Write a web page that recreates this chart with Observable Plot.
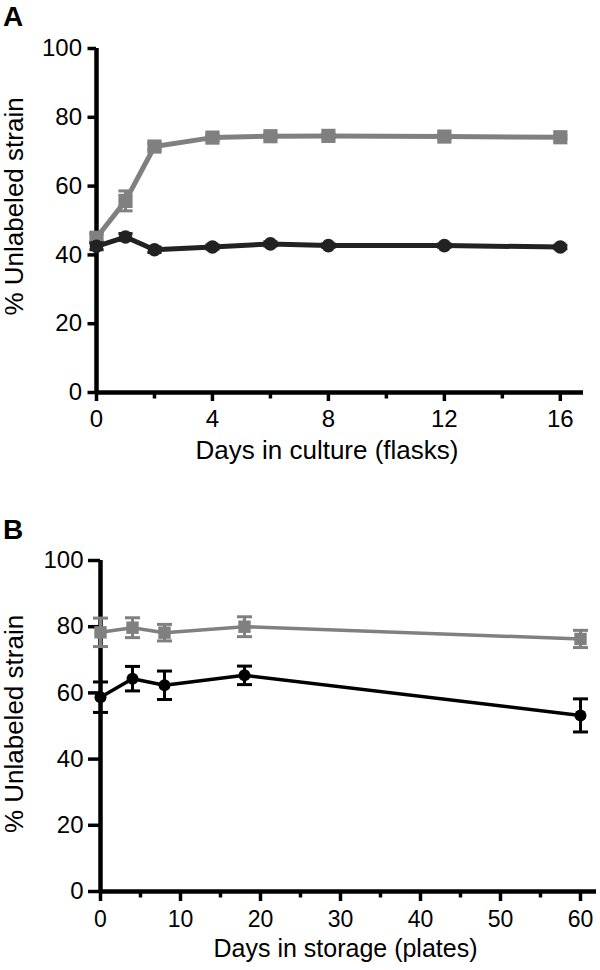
<!DOCTYPE html>
<html><head><meta charset="utf-8">
<script src="https://cdn.jsdelivr.net/npm/d3@7"></script>
<script src="https://cdn.jsdelivr.net/npm/@observablehq/plot@0.6"></script>
<style>
body{margin:0;background:#fff;font-family:"Liberation Sans",Arial,sans-serif;color:#000;}
#wrap{position:relative;width:600px;height:970px;overflow:hidden;}
.panel{position:absolute;left:0;}
.letter{position:absolute;left:3px;font-weight:bold;font-size:28px;line-height:1;}
</style></head><body>
<div id="wrap">
  <div class="panel" id="pa" style="top:0px"></div>
  <div class="panel" id="pb" style="top:465px"></div>
  <div class="letter" style="top:3px">A</div>
  <div class="letter" style="top:516px">B</div>
</div>
<script>
// ---------- data ----------
const yTicks = [0, 20, 40, 60, 80, 100];
const yDomain = [0, 100];
const yTitle = "% Unlabeled strain";

// Panel A: days in culture (flasks)
const daysA = [0, 1, 2, 4, 6, 8, 12, 16];
const grayA = [45, 55.7, 71.5, 74.1, 74.5, 74.6, 74.4, 74.2];
const grayAerr = [1.2, 2.9, 1.0, 0.8, 0.5, 0.5, 0.5, 0.5];
const blackA = [42.5, 45.2, 41.5, 42.3, 43.2, 42.7, 42.7, 42.3];
const blackAerr = [1.0, 1.0, 0.8, 0.6, 0.6, 0.5, 0.5, 0.5];
const xDomainA = [0, 16.8];
const xTicksA = [0, 4, 8, 12, 16];
const xMinorA = [2, 6, 10, 14];
const xTitleA = "Days in culture (flasks)";

// Panel B: days in storage (plates)
const daysB = [0, 4, 8, 18, 60];
const grayB = [78.3, 79.7, 78.2, 80.0, 76.3];
const grayBerr = [4.3, 3.0, 2.5, 3.0, 2.6];
const blackB = [58.7, 64.3, 62.3, 65.3, 53.2];
const blackBerr = [4.6, 3.7, 4.3, 2.8, 5.0];
const xDomainB = [0, 62];
const xTicksB = [0, 10, 20, 30, 40, 50, 60];
const xMinorB = [5, 15, 25, 35, 45, 55];
const xTitleB = "Days in storage (plates)";

const GRAY = "#808080";

// ---------- helpers ----------
const capSymbol = {
  draw(ctx, size) {
    const w = Math.sqrt(size) / 2;
    ctx.moveTo(-w, 0);
    ctx.lineTo(w, 0);
  }
};
function rows(days, vals, errs) {
  return days.map((d, i) => ({x: d, y: vals[i], lo: vals[i] - errs[i], hi: vals[i] + errs[i]}));
}
function seriesMarks(data, color, symbol, r, lineW, errW, capR) {
  return [
    Plot.line(data, {x: "x", y: "y", stroke: color, strokeWidth: lineW}),
    Plot.ruleX(data, {x: "x", y1: "lo", y2: "hi", stroke: color, strokeWidth: errW}),
    Plot.dot(data, {x: "x", y: "lo", symbol: capSymbol, r: capR, stroke: color, strokeWidth: errW}),
    Plot.dot(data, {x: "x", y: "hi", symbol: capSymbol, r: capR, stroke: color, strokeWidth: errW}),
    Plot.dot(data, {x: "x", y: "y", symbol, r, fill: color, stroke: "none"})
  ];
}

function panel(o) {
  return Plot.plot({
    width: 600,
    height: o.height,
    marginTop: o.marginTop,
    marginBottom: o.marginBottom,
    marginLeft: o.marginLeft,
    marginRight: o.marginRight,
    style: {fontFamily: '"Liberation Sans", Arial, sans-serif', color: "#000", background: "transparent", overflow: "visible"},
    x: {domain: o.xDomain},
    y: {domain: yDomain},
    marks: [
      Plot.axisY({ticks: yTicks, tickSize: o.yTickSize, tickPadding: o.yTickPad, strokeWidth: 3.5, fontSize: 24, label: null}),
      Plot.axisX({ticks: o.xTicks, tickSize: o.xTickSize, tickPadding: o.xTickPad, strokeWidth: 3.5, fontSize: o.xTickFont, label: null}),
      Plot.axisX({ticks: o.xMinor, tickSize: 6.5, strokeWidth: 3.5, text: null, label: null}),
      Plot.ruleX([o.xDomain[0]], {y1: yDomain[0], y2: yDomain[1], stroke: "#000", strokeWidth: 4.5}),
      Plot.ruleY([yDomain[0]], {x1: o.xDomain[0], x2: o.xDomain[1], stroke: "#000", strokeWidth: 4.5}),
      ...seriesMarks(o.gray, GRAY, "square", o.sqR, o.lineW, o.errW, o.capR),
      ...seriesMarks(o.black, o.blackColor, "circle", o.circR, o.lineW, o.errW, o.capR),
      Plot.text([o.xTitle], {frameAnchor: "bottom", dy: o.titleDy, dx: o.titleDx, fontSize: o.titleFont, fill: "#000"}),
      Plot.text([yTitle], {frameAnchor: "left", textAnchor: "middle", rotate: -90, dx: o.yTitleDx, dy: o.yTitleDy, fontSize: 26, fill: "#000"})
    ]
  });
}

document.getElementById("pa").append(panel({
  height: 465, marginTop: 48, marginBottom: 73, marginLeft: 96, marginRight: 17,
  xDomain: xDomainA, xTicks: xTicksA, xMinor: xMinorA,
  yTickSize: 8.5, yTickPad: 6, xTickSize: 9, xTickPad: 8, xTickFont: 24,
  gray: rows(daysA, grayA, grayAerr), black: rows(daysA, blackA, blackAerr),
  blackColor: "#222", sqR: 8, circR: 6.8, lineW: 5, errW: 3, capR: 8,
  xTitle: xTitleA, titleDy: 66, titleDx: -13, titleFont: 26, yTitleDx: -82, yTitleDy: -14
}));

document.getElementById("pb").append(panel({
  height: 505, marginTop: 95, marginBottom: 79, marginLeft: 100, marginRight: 4,
  xDomain: xDomainB, xTicks: xTicksB, xMinor: xMinorB,
  yTickSize: 12, yTickPad: 5, xTickSize: 10, xTickPad: 9, xTickFont: 23,
  gray: rows(daysB, grayB, grayBerr), black: rows(daysB, blackB, blackBerr),
  blackColor: "#000", sqR: 7, circR: 6, lineW: 3.5, errW: 3, capR: 8.5,
  xTitle: xTitleB, titleDy: 65, titleDx: -3, titleFont: 25, yTitleDx: -86, yTitleDy: -2
}));
</script>
</body></html>
